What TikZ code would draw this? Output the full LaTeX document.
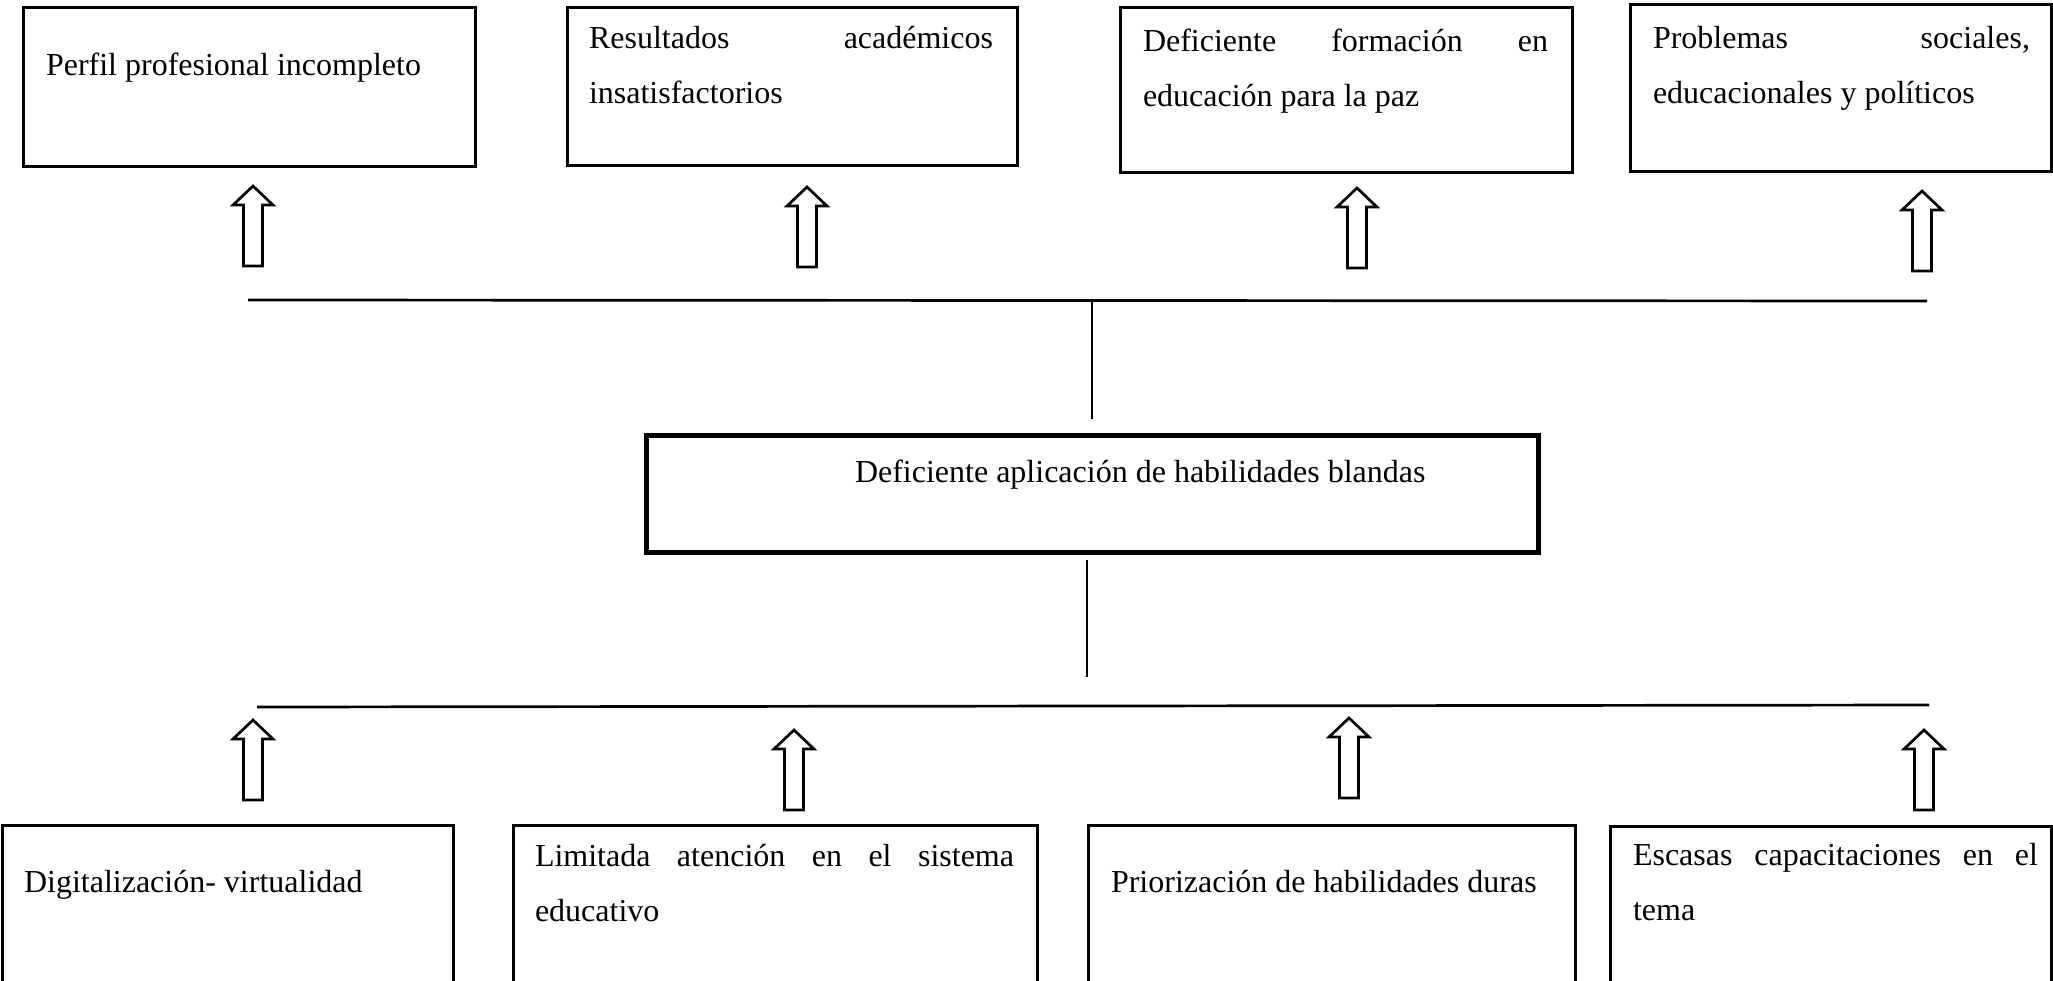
\documentclass[tikz,border=0pt]{standalone}
\usepackage{fontspec}
\setmainfont{Liberation Serif}
\begin{document}
\begin{tikzpicture}[x=1pt,y=-1pt,
 box/.style={draw, line width=3pt, outer sep=0pt, inner sep=0pt, anchor=north west},
 midbox/.style={box, line width=5pt},
 txt/.style={anchor=base west, inner sep=0pt, outer sep=0pt, font=\fontsize{32}{55}\selectfont},
 link/.style={line width=2.7pt},
 uparr/.pic={\draw[line width=2.7pt, line join=miter, fill=white] (0,0) -- (20,19) -- (9.5,19) -- (9.5,80) -- (-9.5,80) -- (-9.5,19) -- (-20,19) -- cycle;}
]
\useasboundingbox (0,0) rectangle (2053,980);
\fill[white] (0,0) rectangle (2053,980);
\clip (0,0) rectangle (2053,980);

% top boxes
\node[box, minimum width=452pt, minimum height=159pt] (t1) at (23,7) {};
\node[box, minimum width=450pt, minimum height=158pt] (t2) at (567,7) {};
\node[box, minimum width=452pt, minimum height=165pt] (t3) at (1120,7) {};
\node[box, minimum width=421pt, minimum height=167pt] (t4) at (1630,4) {};

\node[txt] (t1x) at (46,75) {Perfil profesional incompleto};
\node[txt] (t2x) at (589,48) {\parbox[t]{404pt}{\makebox[404pt][s]{Resultados académicos}\\insatisfactorios}};
\node[txt] (t3x) at (1143,51) {\parbox[t]{405pt}{\makebox[405pt][s]{Deficiente formación en}\\educación para la paz}};
\node[txt] (t4x) at (1653,48) {\parbox[t]{377pt}{\makebox[377pt][s]{Problemas sociales,}\\educacionales y políticos}};

% top arrows
\pic (a1) at (253,186) {uparr};
\pic (a2) at (807,187) {uparr};
\pic (a3) at (1357,188) {uparr};
\pic (a4) at (1922,191) {uparr};

% top connector
\coordinate (tl) at (248,300);
\coordinate (tr) at (1927,301);
\coordinate (tj) at (1092,300);
\coordinate (tjd) at (1092,419);
\draw[link] (tl) -- (tr);
\draw[link] (tj) -- (tjd);

% middle box
\node[midbox, minimum width=892pt, minimum height=117pt] (mid) at (646,435) {};
\node[txt] (midx) at (855,482) {Deficiente aplicación de habilidades blandas};

% bottom connector
\coordinate (bj) at (1087,560);
\coordinate (bjd) at (1087,677);
\coordinate (bl) at (257,707);
\coordinate (br) at (1929,705);
\draw[link] (bj) -- (bjd);
\draw[link] (bl) -- (br);

% bottom arrows
\pic (b1) at (253,720) {uparr};
\pic (b2) at (794,730) {uparr};
\pic (b3) at (1349,718) {uparr};
\pic (b4) at (1924,730) {uparr};

% bottom boxes
\node[box, minimum width=451pt, minimum height=200pt] (c1) at (2,825) {};
\node[box, minimum width=524pt, minimum height=200pt] (c2) at (513,825) {};
\node[box, minimum width=487pt, minimum height=200pt] (c3) at (1088,825) {};
\node[box, minimum width=441pt, minimum height=200pt] (c4) at (1610,826) {};

\node[txt] (c1x) at (24,892) {Digitalización- virtualidad};
\node[txt] (c2x) at (535,866) {\parbox[t]{479pt}{\makebox[479pt][s]{Limitada atención en el sistema}\\educativo}};
\node[txt] (c3x) at (1111,892) {Priorización de habilidades duras};
\node[txt] (c4x) at (1633,865) {\parbox[t]{405pt}{\makebox[405pt][s]{Escasas capacitaciones en el}\\tema}};
\end{tikzpicture}
\end{document}
